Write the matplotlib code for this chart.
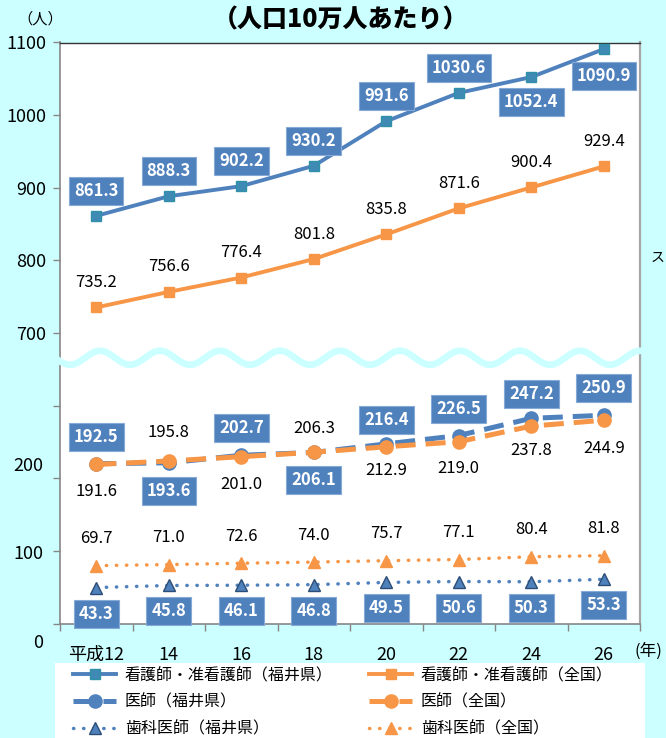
import numpy as np
import matplotlib
matplotlib.use("Agg")
import matplotlib.pyplot as plt
from matplotlib.lines import Line2D
from matplotlib.patches import Rectangle

plt.rcParams['font.family'] = ['Noto Sans CJK JP', 'DejaVu Sans']

# -----------------------------
# data (per 100,000 people)
# -----------------------------
years = ['平成12', '14', '16', '18', '20', '22', '24', '26']
nurse_fukui = [861.3, 888.3, 902.2, 930.2, 991.6, 1030.6, 1052.4, 1090.9]
nurse_japan = [735.2, 756.6, 776.4, 801.8, 835.8, 871.6, 900.4, 929.4]
doctor_fukui = [192.5, 193.6, 202.7, 206.1, 216.4, 226.5, 247.2, 250.9]
doctor_japan = [191.6, 195.8, 201.0, 206.3, 212.9, 219.0, 237.8, 244.9]
dentist_fukui = [43.3, 45.8, 46.1, 46.8, 49.5, 50.6, 50.3, 53.3]
dentist_japan = [69.7, 71.0, 72.6, 74.0, 75.7, 77.1, 80.4, 81.8]

W, H = 666, 738
BG = '#ccffff'
BLUE = '#4f81bd'
ORANGE = '#f79646'
GRAY = '#868686'


def fx(px):
    return px / W


def fy(py):
    return 1 - py / H


fig = plt.figure(figsize=(W / 100, H / 100), dpi=100, facecolor=BG)
rect = [fx(60), fy(623.5), fx(640) - fx(60), fy(42.5) - fy(623.5)]
ax_top = fig.add_axes(rect)   # upper part: 700-1100
ax_bot = fig.add_axes(rect)   # lower part: 0-300
x = np.arange(len(years))

# ---- frame / axes ----
ax_top.set_facecolor('white')
ax_top.set_xlim(-0.5, len(years) - 0.5)
ax_top.set_ylim(300, 1100)
yt = list(range(300, 1101, 100))
ax_top.set_yticks(yt)
ax_top.set_yticklabels([str(v) if v >= 700 else '' for v in yt])
ax_top.tick_params(axis='y', length=5, width=1, color=GRAY, pad=5, labelsize=13)
ax_top.set_xticks(x)
ax_top.set_xticklabels(years)
ax_top.set_xticks(np.arange(-0.5, len(years), 1), minor=True)
ax_top.tick_params(axis='x', which='major', length=0, pad=16, labelsize=13)
ax_top.tick_params(axis='x', which='minor', length=5, width=1, color=GRAY)
ax_top.spines['left'].set_color(GRAY)
ax_top.spines['left'].set_linewidth(1.2)
ax_top.spines['bottom'].set_color(GRAY)
ax_top.spines['bottom'].set_linewidth(1.2)
ax_top.spines['top'].set_color('#333333')
ax_top.spines['top'].set_linewidth(1.0)
ax_top.spines['right'].set_color('#a6a6a6')
ax_top.spines['right'].set_linewidth(1.6)

ax_bot.set_xlim(-0.5, len(years) - 0.5)
ax_bot.set_ylim(0, 700)
ax_bot.patch.set_visible(False)
for s in ax_bot.spines.values():
    s.set_visible(False)
ax_bot.set_xticks([])
ax_bot.set_yticks([])

# ---- series ----
l_nf, = ax_top.plot(x, nurse_fukui, color=BLUE, lw=2.8, marker='s', ms=7.2,
                    mfc='#3f8ab5', mec='#2f91a8', label='看護師・准看護師（福井県）', zorder=3)
l_nj, = ax_top.plot(x, nurse_japan, color=ORANGE, lw=2.8, marker='s', ms=7.2,
                    mfc=ORANGE, mec=ORANGE, label='看護師・准看護師（全国）', zorder=3)
l_df, = ax_bot.plot(x, doctor_fukui, color=BLUE, lw=3.6, ls=(0, (4, 2)), marker='o', ms=9.5,
                    mfc=BLUE, mec=BLUE, label='医師（福井県）', zorder=3)
l_dj, = ax_bot.plot(x, doctor_japan, color=ORANGE, lw=3.6, ls=(0, (4, 2)), marker='o', ms=9.5,
                    mfc=ORANGE, mec=ORANGE, label='医師（全国）', zorder=3)
l_tf, = ax_bot.plot(x, dentist_fukui, color=BLUE, lw=2.5, ls=(0, (0.1, 2.8)), dash_capstyle='round',
                    marker='^', ms=9, mfc=BLUE, mec='#2c4d75', label='歯科医師（福井県）', zorder=3)
l_tj, = ax_bot.plot(x, dentist_japan, color=ORANGE, lw=2.5, ls=(0, (0.1, 2.8)), dash_capstyle='round',
                    marker='^', ms=9, mfc=ORANGE, mec=ORANGE, label='歯科医師（全国）', zorder=3)


# ---- data labels ----
def box_label(ax, xi, v, up):
    ax.annotate(f'{v:.1f}', (xi, v), xytext=(0, up), textcoords='offset pixels',
                ha='center', va='center', fontsize=12, fontweight='bold', color='white',
                bbox=dict(boxstyle='square,pad=0.3', fc=BLUE, ec='#86aad6', lw=0.8), zorder=6)


def plain_label(ax, xi, v, up):
    ax.annotate(f'{v:.1f}', (xi, v), xytext=(0, up), textcoords='offset pixels',
                ha='center', va='center', fontsize=12, color='black', zorder=6)


nf_side = [25, 25, 25, 25, 25, 25, -25, -27]
df_side = [27, -28, 27, -28, 24, 27, 24, 27]
dj_side = [-27, 28, -28, 24, -24, -27, -24, -28]
for i in range(len(years)):
    box_label(ax_top, x[i], nurse_fukui[i], nf_side[i])
    plain_label(ax_top, x[i], nurse_japan[i], 25)
    box_label(ax_bot, x[i], doctor_fukui[i], df_side[i])
    plain_label(ax_bot, x[i], doctor_japan[i], dj_side[i])
    plain_label(ax_bot, x[i], dentist_japan[i], 27)
    box_label(ax_bot, x[i], dentist_fukui[i], -26)

# ---- lower axis labels (placed by hand like the original) ----
fig.text(fx(43), fy(466), '200', ha='right', va='center', fontsize=13)
fig.text(fx(43), fy(554), '100', ha='right', va='center', fontsize=13)
fig.text(fx(43), fy(643), '0', ha='right', va='center', fontsize=13)
fig.text(fx(40), fy(19), '（人）', ha='center', va='center', fontsize=11)
fig.text(fx(635), fy(651), '(年)', ha='left', va='center', fontsize=12)
fig.text(fx(651), fy(258), 'ス', ha='left', va='center', fontsize=10)
fig.text(fx(341), fy(19), '（人口10万人あたり）', ha='center', va='center',
         fontsize=18, fontweight='heavy')

# ---- wavy break ----
wx = np.linspace(57, 643, 400)
wy = 357.8 - 7 * np.cos(2 * np.pi * (wx - 100) / 60)
fig.add_artist(Line2D(fx(wx), fy(wy), color=BG, lw=4.8, transform=fig.transFigure,
                      solid_capstyle='butt', zorder=5))

# ---- legend ----
fig.add_artist(Rectangle((fx(55), 0), fx(645) - fx(55), fy(663), transform=fig.transFigure,
                         facecolor='white', edgecolor='none', zorder=1))
common = dict(frameon=False, fontsize=11.5, handlelength=2.7, handletextpad=0.55,
              labelspacing=0.62, borderpad=0, borderaxespad=0, loc='upper left')
fig.legend(handles=[l_nf, l_df, l_tf], bbox_to_anchor=(fx(73), fy(667)), **common)
fig.legend(handles=[l_nj, l_dj, l_tj], bbox_to_anchor=(fx(369), fy(667)), **common)

fig.savefig('out.png', dpi=100, facecolor=BG)
